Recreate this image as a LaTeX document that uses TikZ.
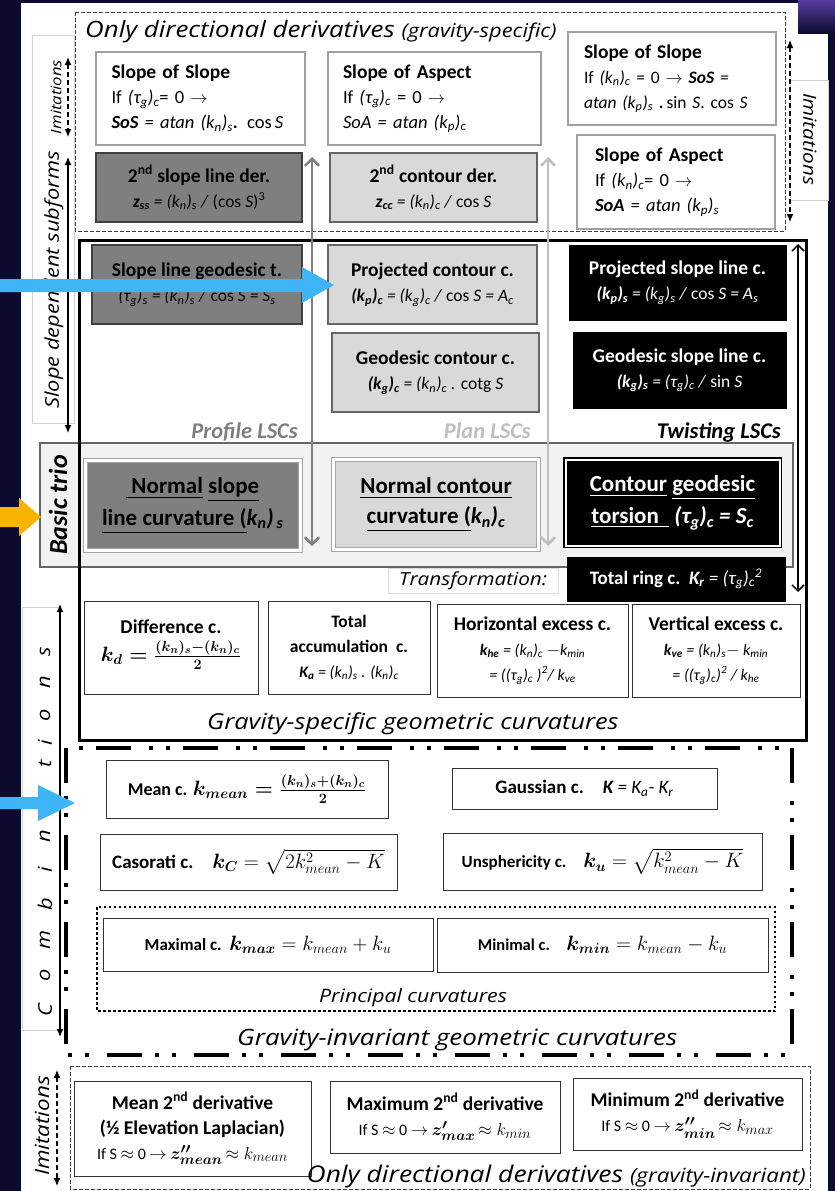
\documentclass[tikz,border=0pt]{standalone}
\usepackage{amsmath}
\usepackage{bm}
\usepackage{fontspec}
\setmainfont{Carlito}
\newfontfamily\osans[FakeStretch=1.15]{Open Sans}
\usetikzlibrary{arrows.meta}
\definecolor{bgnavy}{HTML}{0C0A2E}
\definecolor{bgpurp}{HTML}{5A3C9E}
\definecolor{dgray}{HTML}{7F7F7F}
\definecolor{lgray}{HTML}{D9D9D9}
\definecolor{bdr}{HTML}{A0A0A0}
\definecolor{skyb}{HTML}{3DB5F6}
\definecolor{ambr}{HTML}{F8B400}
\newcommand\lsb[1]{\textsubscript{#1}}
\newcommand\usp[1]{\textsuperscript{#1}}
\newcommand\fsz[1]{\fontsize{#1}{25}\selectfont}
\newcommand\bxT{\fontsize{19.5}{25}\selectfont\bfseries}
\begin{document}
\begin{tikzpicture}[x=1pt,y=-1pt,
 every node/.style={inner sep=0pt},
 wbox/.style={draw=bdr, line width=2.5pt, fill=white, align=left, font=\fsz{18.5}},
 dgbox/.style={draw=black!75, line width=1.2pt, fill=dgray, align=center, font=\fsz{17.5}},
 lgbox/.style={draw=black!60, line width=1.2pt, fill=lgray, align=center, font=\fsz{17.5}},
 bkbox/.style={draw=black, line width=1pt, fill=black, text=white, align=center, font=\fsz{17.5}},
 pbox/.style={draw=black!80, line width=1pt, fill=white, align=center, font=\fsz{16}},
 lbl/.style={font=\osans\itshape\fsz{#1}},
 lsc/.style={anchor=base east, font=\fsz{22.5}\bfseries\itshape},
 dsh/.style={black!75, line width=1pt, dash pattern=on 4pt off 2pt},
 sidearr/.style={line width=1.2pt, {Latex[length=8pt,width=7pt]}-{Latex[length=8pt,width=7pt]}},
 bigarr/.style={line width=2.5pt, {Straight Barb[length=7pt,width=14pt]}-{Straight Barb[length=7pt,width=14pt]}}
]
% background
\fill[bgnavy] (0,0) rectangle (835,1191);
\fill[white] (21,3) rectangle (828,1191);
\shade[top color=bgpurp, bottom color=bgnavy] (798,0) rectangle (835,33);
% side label frames
\draw[black!18, line width=0.8pt] (32,35) rectangle (74,423);
\draw[black!18, line width=0.8pt] (22,607) rectangle (60,1030);
\draw[black!18, line width=0.8pt] (790,80) rectangle (828,200);

% ---------- top region: directional derivatives (gravity-specific)
\draw[dsh] (75,12) rectangle (785,231);
\node[lbl=22.5, anchor=base west] (ttop) at (85,37) {Only directional derivatives {\fsz{19}(gravity-specific)}};

\node[wbox, minimum width=209, minimum height=93, text width=178] (sos1) at (200.5,98.5)
 {{\bxT Slope of Slope}\\
  If \textit{(τ\lsb{g})\lsb{c}}= 0 $\rightarrow$\\
  \textit{\textbf{SoS} = atan (k\lsb{n})\lsb{s}}\textbf{.} cos\,\textit{S}};
\node[wbox, minimum width=213, minimum height=93, text width=183] (soa1) at (434.5,98.5)
 {{\bxT Slope of Aspect}\\
  If \textit{(τ\lsb{g})\lsb{c}} = 0 $\rightarrow$\\
  \textit{SoA = atan (k\lsb{p})\lsb{c}}};
\node[wbox, minimum width=208, minimum height=93, text width=176, font=\fsz{17.5}] (sos2) at (672,78.5)
 {{\bxT Slope of Slope}\\
  If \textit{(k\lsb{n})\lsb{c}} = 0 $\rightarrow$\ \textit{\textbf{SoS} =}\\
  \textit{atan (k\lsb{p})\lsb{s}} \textbf{.}\,sin \textit{S}. cos \textit{S}};
\node[wbox, minimum width=198, minimum height=94, text width=162] (soa2) at (676,182)
 {{\bxT Slope of Aspect}\\
  If \textit{(k\lsb{n})\lsb{c}}= 0 $\rightarrow$\\
  \textit{\textbf{SoA} = atan (k\lsb{p})\lsb{s}}};
\node[dgbox, minimum width=206, minimum height=69] (zss) at (199,187.5)
 {{\bxT 2\usp{nd} slope line der.}\\
  \textit{\textbf{z\lsb{ss}} = (k\lsb{n})\lsb{s} /} (cos \textit{S})\usp{3}};
\node[lgbox, minimum width=207, minimum height=69] (zcc) at (433.5,187.5)
 {{\bxT 2\usp{nd} contour der.}\\
  \textit{\textbf{z\lsb{cc}} = (k\lsb{n})\lsb{c} /} cos \textit{S}};

% ---------- basic trio band
\draw[fill=black!5, draw=black!60, line width=1.2pt] (40,443) rectangle (793,567);

% ---------- gravity-specific region
\draw[line width=3pt] (79,240) rectangle (806,740);

\node[dgbox, minimum width=210, minimum height=79] (slg) at (197,284.5)
 {{\bxT Slope line geodesic t.}\\
  \textit{(τ\lsb{g})\lsb{s} = (k\lsb{n})\lsb{s} /} cos \textit{S = S\lsb{s}}};
\node[lgbox, minimum width=209, minimum height=79] (pcc) at (432.5,284.5)
 {{\bxT Projected contour c.}\\
  \textit{\textbf{(k\lsb{p})\lsb{c}} = (k\lsb{g})\lsb{c} /} cos \textit{S = A\lsb{c}}};
\node[bkbox, minimum width=217, minimum height=75] (pslc) at (677.5,282.5)
 {{\bxT Projected slope line c.}\\
  \textit{\textbf{(k\lsb{p})\lsb{s}} = (k\lsb{g})\lsb{s} /} cos \textit{S = A\lsb{s}}};
\node[lgbox, minimum width=207, minimum height=79] (gcc) at (435.5,372.5)
 {{\bxT Geodesic contour c.}\\
  \textit{\textbf{(k\lsb{g})\lsb{c}} = (k\lsb{n})\lsb{c} .} cotg \textit{S}};
\node[bkbox, minimum width=213, minimum height=76] (gslc) at (679.5,370)
 {{\bxT Geodesic slope line c.}\\
  \textit{\textbf{(k\lsb{g})\lsb{s}} = (τ\lsb{g})\lsb{c} /} sin \textit{S}};

\node[lsc, text=dgray] (lprof) at (298,438) {Profile LSCs};
\node[lsc, text=black!25] (lplan) at (531,438) {Plan LSCs};
\node[lsc] (ltwist) at (781,438) {Twisting LSCs};

\node[fill=dgray, draw=black!35, line width=0.8pt, double=white, double distance=3.5pt,
      minimum width=215, minimum height=90, align=center, font=\fsz{23}\bfseries] (nsl) at (192.75,505.5)
 {\underline{\ Normal} \underline{slope}\\[5pt]
  \underline{line curvature (}\textit{k\lsb{n})\lsb{\,s}}};
\node[fill=lgray, draw=black!35, line width=0.8pt, double=white, double distance=3.5pt,
      minimum width=205, minimum height=90, align=center, font=\fsz{23}\bfseries] (ncc) at (436,504.5)
 {\underline{Normal contour}\\[5pt]
  \underline{curvature (}\textit{k\lsb{n})\lsb{c}}};
\node[fill=black, draw=black, line width=1.5pt, double=white, double distance=2pt, text=white,
      minimum width=214, minimum height=86, align=center, font=\fsz{23}\bfseries] (cgt) at (672.5,502.5)
 {\underline{Contour} \underline{geodesic}\\[5pt]
  \underline{torsion\ \ } \textit{(τ\lsb{g})\lsb{c} = S\lsb{c}}};
\node[rotate=90, font=\fsz{26}\bfseries\itshape] (trio) at (58,505) {Basic trio};

\node[draw=black!15, fill=white, anchor=north west, minimum width=170, minimum height=25,
      text width=148, align=left, lbl=18] (trf) at (388,568) {Transformation:};
\node[bkbox, minimum width=218, minimum height=44, font=\fsz{19}] (trc) at (676,579)
 {\textbf{Total ring c.}\ \ \textit{\textbf{K\lsb{r}} = (τ\lsb{g})\lsb{c}\usp{2}}};

\node[pbox, minimum width=174, minimum height=93, font=\fsz{19.5}\bfseries] (dif) at (171,647.5)
 {Difference c.\\[3pt]
  {\fsz{22}\boldmath$k_d = \frac{(k_n)_s-(k_n)_c}{2}$}\\[-12pt]\mbox{}};
\node[pbox, minimum width=162, minimum height=93] (tac) at (349,647.5)
 {{\fsz{17.5}\bfseries Total}\\
  {\fsz{17.5}\bfseries accumulation\ \ c.}\\
  \textit{\textbf{K\lsb{a}} = (k\lsb{n})\lsb{s} . (k\lsb{n})\lsb{c}}};
\node[pbox, minimum width=191, minimum height=93] (hex) at (532.5,650.5)
 {{\bxT Horizontal excess c.}\\
  \textit{\textbf{k\lsb{he}} = (k\lsb{n})\lsb{c} $-$k\lsb{min}}\\
  \textit{= ((τ\lsb{g})\lsb{c} )\usp{2}/ k\lsb{ve}}};
\node[pbox, minimum width=168, minimum height=93] (vex) at (716,650.5)
 {{\bxT Vertical excess c.}\\
  \textit{\textbf{k\lsb{ve}} = (k\lsb{n})\lsb{s}$-$ k\lsb{min}}\\
  \textit{= ((τ\lsb{g})\lsb{c})\usp{2} / k\lsb{he}}};
\node[lbl=22, anchor=base west] (gsg) at (207,729) {Gravity-specific geometric curvatures};

% gray transfer arrows and right arrow
\coordinate (ga1) at (312,546); \coordinate (ga2) at (312,157);
\coordinate (gb1) at (548,546); \coordinate (gb2) at (548,157);
\draw[bigarr, draw=black!50] (ga1) -- (ga2);
\draw[bigarr, draw=black!25] (gb1) -- (gb2);
\coordinate (ra1) at (798,244); \coordinate (ra2) at (798,592);
\draw[line width=1.5pt, {Straight Barb[length=6pt,width=12pt]}-{Straight Barb[length=6pt,width=12pt]}] (ra1) -- (ra2);

% ---------- gravity-invariant region
\draw[line width=4pt, dash pattern=on 35pt off 13pt on 4pt off 13pt on 4pt off 18pt] (66,748) rectangle (792,1055);
\node[pbox, minimum width=282, minimum height=58, font=\fsz{18}\bfseries] (mean) at (247,789)
 {Mean c. {\fsz{22}\boldmath$k_{mean} = \frac{(k_n)_s+(k_n)_c}{2}$}};
\node[pbox, minimum width=265, minimum height=41, font=\fsz{19}] (gau) at (584.5,788.5)
 {\textbf{Gaussian c.}\quad \textit{\textbf{K} = K\lsb{a}- K\lsb{r}}};
\node[pbox, minimum width=297, minimum height=56, font=\fsz{19}\bfseries] (cas) at (248.5,862)
 {Casorati c.\quad{\fsz{20}$\bm{k_C} = \sqrt{2k^2_{mean} - K}$}};
\node[pbox, minimum width=319, minimum height=57, font=\fsz{17}\bfseries] (uns) at (602.5,861.5)
 {Unsphericity c.\quad{\fsz{21}$\bm{k_u} = \sqrt{k^2_{mean} - K}$}};
\draw[line width=2.5pt, dash pattern=on 2.5pt off 2.5pt] (97,907) rectangle (775,1011);
\node[pbox, minimum width=330, minimum height=53, font=\fsz{17}\bfseries] (kmax) at (268,944.5)
 {Maximal c.\ \ {\fsz{21}$\bm{k_{max}} = k_{mean} + k_u$}};
\node[pbox, minimum width=331, minimum height=54, font=\fsz{16.5}\bfseries] (kmin) at (602.5,945)
 {Minimal c.\quad {\fsz{21}$\bm{k_{min}} = k_{mean} - k_u$}};
\node[lbl=18.5, anchor=base west] (pc) at (319,1002) {Principal curvatures};
\node[lbl=22.5, anchor=base west] (giv) at (237,1045) {Gravity-invariant geometric curvatures};

% ---------- bottom region: directional derivatives (gravity-invariant)
\draw[dsh] (70,1066) rectangle (810,1189);
\node[pbox, minimum width=237, minimum height=95] (m2d) at (192.5,1128.5)
 {{\bxT Mean 2\usp{nd} derivative}\\
  {\bxT (½ Elevation Laplacian)}\\
  If S $\approx$ 0 $\rightarrow$ {\fsz{19}\boldmath$z''_{mean}$}{\fsz{19}$\,\approx k_{mean}$}};
\node[pbox, minimum width=230, minimum height=72] (max2d) at (445,1117)
 {{\bxT Maximum 2\usp{nd} derivative}\\
  If S $\approx$ 0 $\rightarrow$ {\fsz{19}\boldmath$z'_{max}$}{\fsz{19}$\,\approx k_{min}$}};
\node[pbox, minimum width=229, minimum height=72] (min2d) at (687.5,1114)
 {{\bxT Minimum 2\usp{nd} derivative}\\
  If S $\approx$ 0 $\rightarrow$ {\fsz{19}\boldmath$z''_{min}$}{\fsz{19}$\,\approx k_{max}$}};
\node[lbl=23, anchor=base east] (tbot) at (806,1182) {Only directional derivatives {\fsz{19.5}(gravity-invariant)}};

% ---------- side labels and arrows
\coordinate (i1a) at (68,57); \coordinate (i1b) at (68,137);
\draw[sidearr, dash pattern=on 5pt off 3pt] (i1a) -- (i1b);
\coordinate (s1a) at (68,157); \coordinate (s1b) at (68,433);
\draw[sidearr] (s1a) -- (s1b);
\coordinate (c1a) at (60,604); \coordinate (c1b) at (60,1037);
\draw[sidearr] (c1a) -- (c1b);
\coordinate (i2a) at (57,1070); \coordinate (i2b) at (57,1186);
\draw[sidearr, dash pattern=on 5pt off 3pt] (i2a) -- (i2b);
\coordinate (i3a) at (790,40); \coordinate (i3b) at (790,222);
\draw[sidearr, dash pattern=on 5pt off 3pt] (i3a) -- (i3b);

\node[lbl=14.5, rotate=90] (imi1) at (56,97) {Imitations};
\node[lbl=19, rotate=90] (sds) at (54,280) {Slope dependent subforms};
\node[lbl=19.5, rotate=90] (imi2) at (42,1126) {Imitations};
\node[lbl=18, rotate=-90] (imi3) at (810,139) {Imitations};
\foreach \ch/\yy [count=\i] in {C/1010,o/975,m/940,b/904,i/870,n/836,a/800,t/764,i/743,o/715,n/682,s/652}
  {\node[lbl=19, rotate=90] (cmb\i) at (45,\yy) {\ch};}

% ---------- pointer arrows
\fill[skyb] (0,279) -- (302,279) -- (302,267) -- (334,285) -- (302,303) -- (302,292) -- (0,292) -- cycle;
\fill[ambr] (0,507) -- (19,507) -- (19,498) -- (41,517) -- (19,536) -- (19,527) -- (0,527) -- cycle;
\fill[skyb] (0,797) -- (38,797) -- (38,785) -- (75,803) -- (38,821) -- (38,809) -- (0,809) -- cycle;
\end{tikzpicture}
\end{document}
